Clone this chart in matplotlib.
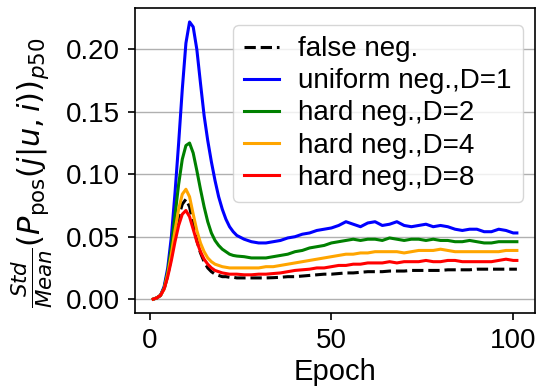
import matplotlib
matplotlib.use("Agg")
import matplotlib.pyplot as plt

plt.rcParams['font.family'] = ['Liberation Sans', 'DejaVu Sans']
plt.rcParams['mathtext.fontset'] = 'dejavusans'

# epochs (dense around the peak, every 2 later)
epochs = list(range(1, 25)) + list(range(26, 101, 2)) + [101]

false_neg = [0.000, 0.001, 0.003, 0.008, 0.019, 0.034, 0.051, 0.066, 0.076, 0.080,
             0.074, 0.060, 0.047, 0.037, 0.030, 0.025, 0.022, 0.020, 0.019, 0.018,
             0.018, 0.0175, 0.0175, 0.017,
             0.017, 0.017, 0.017, 0.017, 0.0172, 0.0175, 0.018, 0.018, 0.0185, 0.019,
             0.0195, 0.020, 0.020, 0.0205, 0.021, 0.021, 0.0215, 0.022, 0.022, 0.022,
             0.0225, 0.0225, 0.0225, 0.023, 0.023, 0.023, 0.023, 0.023, 0.0235, 0.0235,
             0.0235, 0.0235, 0.024, 0.024, 0.024, 0.024, 0.024, 0.024, 0.024]

uniform_d1 = [0.000, 0.001, 0.003, 0.010, 0.025, 0.050, 0.085, 0.125, 0.168, 0.205,
              0.222, 0.218, 0.200, 0.173, 0.147, 0.127, 0.110, 0.095, 0.082, 0.072,
              0.064, 0.058, 0.054, 0.051,
              0.048, 0.046, 0.045, 0.045, 0.046, 0.047, 0.049, 0.050, 0.052, 0.053,
              0.055, 0.056, 0.057, 0.059, 0.062, 0.060, 0.058, 0.061, 0.062, 0.059,
              0.060, 0.062, 0.059, 0.058, 0.059, 0.060, 0.058, 0.059, 0.058, 0.056,
              0.055, 0.056, 0.056, 0.054, 0.054, 0.056, 0.055, 0.053, 0.053]

hard_d2 = [0.000, 0.001, 0.003, 0.009, 0.022, 0.042, 0.067, 0.092, 0.112, 0.123,
           0.125, 0.117, 0.103, 0.088, 0.074, 0.062, 0.053, 0.047, 0.043, 0.040,
           0.038, 0.036, 0.035, 0.0345,
           0.034, 0.033, 0.033, 0.033, 0.034, 0.035, 0.036, 0.038, 0.039, 0.041,
           0.042, 0.043, 0.045, 0.046, 0.047, 0.048, 0.047, 0.048, 0.048, 0.047,
           0.049, 0.048, 0.047, 0.048, 0.048, 0.047, 0.048, 0.047, 0.047, 0.046,
           0.046, 0.047, 0.046, 0.045, 0.045, 0.046, 0.046, 0.046, 0.046]

hard_d4 = [0.000, 0.001, 0.003, 0.008, 0.020, 0.036, 0.055, 0.072, 0.084, 0.088,
           0.082, 0.068, 0.055, 0.045, 0.038, 0.033, 0.030, 0.028, 0.027, 0.026,
           0.0255, 0.025, 0.025, 0.025,
           0.025, 0.025, 0.025, 0.026, 0.026, 0.027, 0.028, 0.029, 0.030, 0.031,
           0.032, 0.033, 0.034, 0.035, 0.036, 0.036, 0.037, 0.037, 0.038, 0.038,
           0.038, 0.038, 0.037, 0.038, 0.039, 0.039, 0.039, 0.040, 0.039, 0.038,
           0.038, 0.038, 0.038, 0.038, 0.038, 0.038, 0.039, 0.039, 0.039]

hard_d8 = [0.000, 0.001, 0.003, 0.008, 0.018, 0.031, 0.046, 0.059, 0.068, 0.071,
           0.066, 0.056, 0.046, 0.038, 0.032, 0.028, 0.025, 0.023, 0.022, 0.021,
           0.0205, 0.020, 0.020, 0.020,
           0.0195, 0.0195, 0.020, 0.020, 0.0205, 0.021, 0.022, 0.023, 0.0235, 0.024,
           0.025, 0.025, 0.026, 0.027, 0.027, 0.028, 0.028, 0.029, 0.029, 0.029,
           0.030, 0.029, 0.030, 0.030, 0.030, 0.031, 0.030, 0.030, 0.031, 0.031,
           0.030, 0.030, 0.030, 0.030, 0.030, 0.031, 0.032, 0.031, 0.031]

fig = plt.figure(figsize=(5.37, 3.92), dpi=100)
ax = fig.add_axes([0.2514, 0.2015, 0.745, 0.778])

ax.plot(epochs, false_neg, 'k--', lw=2.2, label='false neg.')
ax.plot(epochs, uniform_d1, color='blue', lw=2.2, label='uniform neg.,D=1')
ax.plot(epochs, hard_d2, color='green', lw=2.2, label='hard neg.,D=2')
ax.plot(epochs, hard_d4, color='orange', lw=2.2, label='hard neg.,D=4')
ax.plot(epochs, hard_d8, color='red', lw=2.2, label='hard neg.,D=8')

ax.set_yticks([0.0, 0.05, 0.10, 0.15, 0.20])
ax.set_xticks([0, 50, 100])
ax.grid(axis='y', color='#b0b0b0', lw=1.0)
for s in ax.spines.values():
    s.set_linewidth(1.2)
ax.tick_params(labelsize=20, length=5, width=1.2, pad=6)
ax.set_xlabel('Epoch', fontsize=21, labelpad=3)
ax.set_ylabel(r'$\frac{Std}{Mean}(P_{\rm pos}(j|u,i))_{p50}$', fontsize=22)
ax.yaxis.set_label_coords(-0.2, 0.46)

ax.legend(loc='upper right', bbox_to_anchor=(0.97, 0.944), borderaxespad=0,
          fontsize=20, labelspacing=0.22, handlelength=1.25, handletextpad=0.7)

fig.savefig('out.png', dpi=100)
